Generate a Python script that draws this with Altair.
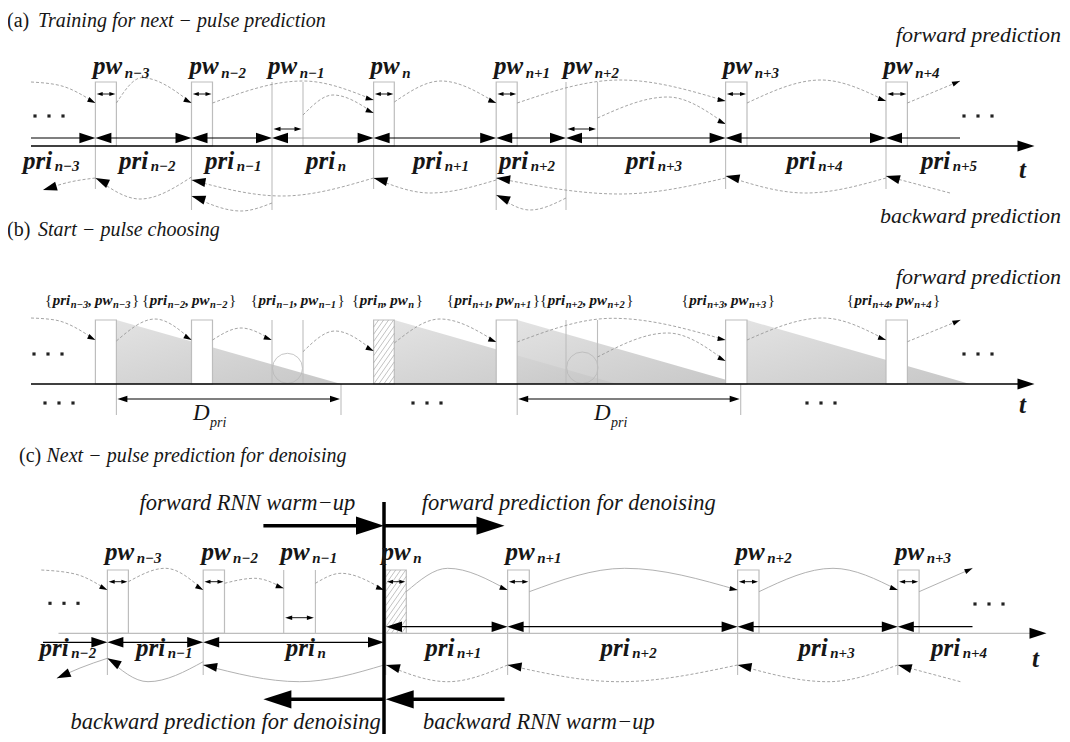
import math
import altair as alt
import pandas as pd

FONT = "Liberation Serif"
GREY = "#bdbdbd"
ARC_GREY = "#9a9a9a"
INK = "#161616"

# ---------------- pulse trains (page pixel coordinates) ----------------
ab_start = [95.4, 191.5, 272.0, 373.6, 496.2, 566.0, 725.6, 886.0]
ab_end = [116.4, 212.5, 303.0, 394.3, 517.2, 597.5, 747.0, 907.4]
a_kind = ["box", "box", "gap", "box", "box", "gap", "box", "box"]
b_kind = ["box", "box", "gap", "hatch", "box", "gap", "box", "box"]
c_start = [107.4, 203.2, 283.7, 385.7, 507.6, 737.6, 897.8]
c_end = [128.4, 224.5, 315.4, 406.3, 529.3, 759.0, 919.1]
c_kind = ["box", "box", "gap", "hatch", "box", "box", "box"]

# vertical levels
a_top, a_axis, a_pri_line, a_pw_arrow, a_gap_arrow = 82, 146, 138, 94, 129
a_tick_bottom = [189, 210, 210, 189, 210, 210, 189, 189]
b_top, b_axis, b_dpri_y, b_dpri_bottom = 320, 384, 399, 415
c_top, c_axis, c_pri_low, c_pri_high = 570, 633.3, 642.3, 626.7
c_pw_arrow, c_gap_arrow, c_tick_bottom = 581.7, 617.7, 675

# chains of double arrows (pri intervals)
a_chain = [31] + ab_start + [960]
a_chain_color = ["black", "black", "black", "#9a9a9a", "black", "black", "black", "black", "black"]
c_chain_low = [43, 107.4, 203.2, 384]
c_chain_high = [386, 507.6, 737.6, 897.8, 972.5]

# start-pulse windows in (b)
b_tri_start = [116.4, 394.3, 517.2, 747.0]
b_tri_end = [341.0, 617.0, 740.7, 970.0]
b_dpri_start = [116.4, 517.2]
b_dpri_end = [341.0, 740.7]
b_circle_x = [287.5, 582.3]
b_circle_y = [368.3, 367.7]
b_circle_r = [15.0, 15.7]

# dotted ellipses (left x of three dots, y)
dots_x = [35, 964, 34, 964, 45, 413, 807, 50, 975]
dots_y = [116, 116, 354, 354, 403, 403, 403, 603.3, 604]

# ---------------- prediction arcs (start ... tip) ----------------
arcs_a_fwd = [
    [(31, 82), (60, 85.5), (95.4, 103)],
    [(116.4, 103), (141.7, 77.7), (191.5, 103)],
    [(212.5, 103), (303, 81), (373.6, 100)],
    [(303, 115), (333, 95), (373.6, 113)],
    [(394.3, 102), (441, 81), (496.2, 103)],
    [(517.2, 103), (620, 80), (725.6, 101)],
    [(597.5, 118), (667.7, 97), (725.6, 124)],
    [(747, 103), (821, 80), (886, 101)],
    [(907.4, 103), (960, 81)],
]
arcs_a_bwd = [
    [(95.4, 178), (70, 182), (43, 190)],
    [(191.5, 177), (140, 199), (95.4, 178)],
    [(373.6, 178), (282, 196), (191.5, 180)],
    [(272, 203), (241, 211), (191.5, 196)],
    [(496.2, 180), (430, 193), (373.6, 178)],
    [(566, 198), (530, 210), (496.2, 195)],
    [(725.6, 178), (620, 194), (496.2, 178)],
    [(886, 178), (805.5, 193), (725.6, 176)],
    [(950, 193), (886, 176)],
]
arcs_b_fwd = [
    [(31, 318), (55, 320), (95.4, 340)],
    [(116.4, 341), (155, 319), (191.5, 340)],
    [(212.5, 340), (241, 328), (271.7, 340)],
    [(303, 351.7), (335, 331), (373.6, 351)],
    [(394.3, 343), (440, 319), (496.2, 342)],
    [(517.2, 342), (612.6, 318.3), (725.6, 340)],
    [(597.5, 357), (667.7, 333), (725.6, 361)],
    [(747, 340), (822.7, 318), (886, 340)],
    [(907.4, 341.7), (960.4, 320)],
]
arcs_c_fwd_dashed = [
    [(41.3, 570), (75, 574), (107.4, 590)],
    [(128.4, 581.7), (165.3, 568.3), (203.2, 590)],
    [(224.5, 583.3), (254.8, 578.3), (283.7, 588.3)],
    [(315.4, 583.3), (341, 573.3), (384, 590)],
]
arcs_c_fwd_solid = [
    [(406.3, 591.7), (447.7, 568.3), (507.6, 590)],
    [(529.3, 591.7), (624.7, 568.3), (737.6, 590)],
    [(759, 591.7), (833, 568.3), (897.8, 590)],
    [(919.1, 591.7), (972.5, 568.3)],
]
arcs_c_bwd_solid = [
    [(107.4, 658.3), (80, 668), (56.8, 678.3)],
    [(203.2, 661.7), (148, 681.7), (107.4, 658.3)],
    [(384, 665), (299.6, 681.7), (203.2, 665)],
]
arcs_c_bwd_dashed = [
    [(507.6, 665), (447.7, 681.7), (386, 665)],
    [(737.6, 665), (619.5, 681.7), (507.6, 665)],
    [(897.8, 665), (827.9, 681.7), (737.6, 665)],
    [(960.4, 681.7), (897.8, 665)],
]

# thick arrows of panel (c): (from x, to x, y)
thick_from = [263.4, 384, 384, 504.5]
thick_to = [384, 504.5, 263.4, 385.7]
thick_y = [525.7, 525.7, 699.3, 699.3]
divider_x, divider_top, divider_bottom = 384, 502, 735

# ---------------- texts ----------------
title_tag = ["(a)", "(b)", "(c)"]
title_tag_x = [7, 7, 19]
title_text = ["Training for next − pulse prediction", "Start − pulse choosing",
              "Next − pulse prediction for denoising"]
title_text_x = [38, 38, 46.5]
title_y = [26.5, 236, 462]

right_text = ["forward prediction", "backward prediction", "forward prediction"]
right_x = [1061, 1061, 1061]
right_y = [42, 223, 284]
left_text = ["forward RNN warm−up", "forward prediction for denoising",
             "backward prediction for denoising", "backward RNN warm−up"]
left_x = [139.5, 421.8, 70.6, 422.9]
left_y = [510, 510, 729, 729]

pw_sub_a = ["n−3", "n−2", "n−1", "n", "n+1", "n+2", "n+3", "n+4"]
pw_x_a = [93, 189.5, 268, 370.5, 494, 563, 723, 883.5]
pri_sub_a = ["n−3", "n−2", "n−1", "n", "n+1", "n+2", "n+3", "n+4", "n+5"]
pri_x_a = [23, 119, 205, 306, 413, 499, 626, 786.5, 921]
pair_sub_b = ["n−3", "n−2", "n−1", "n", "n+1", "n+2", "n+3", "n+4"]
pair_x_b = [45, 142, 250.7, 352, 446.7, 540, 681.5, 846.8]
pw_sub_c = ["n−3", "n−2", "n−1", "n", "n+1", "n+2", "n+3"]
pw_x_c = [105, 201.4, 280.6, 381.5, 505.5, 735.6, 895]
pri_sub_c = ["n−2", "n−1", "n", "n+1", "n+2", "n+3", "n+4"]
pri_x_c = [39.6, 136, 285.8, 425.3, 600.6, 798.6, 931]
label_base_a = {"pw": (73.5, 77.7), "pri": (168.5, 171)}
label_base_c = {"pw": (559.5, 563), "pri": (655.5, 657.5)}
pair_base_b = (305, 307.5)
d_x = [193, 594]
d_y, d_sub_y = 420, 427
t_x = [1019, 1019, 1032]
t_y = [178, 413, 667]

# ---------------- geometry helpers ----------------
HEAD = "M0,0L-2,-0.65L-2,0.65Z"
W_BI = {"p": .5, "r": .389, "i": .278, "w": .667, "n": .556, "−": .606, "+": .570,
        ",": .25, "{": .348, "}": .348, " ": .25}


def tw(s, size):
    return sum(W_BI.get(ch, .5) for ch in s) * size


rules, heads, black_rules = [], [], []


def add_rule(target, x1, y1, x2, y2, color, w):
    target.append(dict(x=x1, y=y1, x2=x2, y2=y2, color=color, w=w))


def add_head(tx, ty, dx, dy, L):
    heads.append(dict(x=tx, y=ty, angle=math.degrees(math.atan2(dy, dx)) % 360, size=L * L))


def arrow(x1, y1, x2, y2, L, color="black", w=1.2, h_start=False, h_end=True):
    dx, dy = x2 - x1, y2 - y1
    d = math.hypot(dx, dy)
    ux, uy = dx / d, dy / d
    sx, sy = (x1 + ux * L * 0.5, y1 + uy * L * 0.5) if h_start else (x1, y1)
    ex, ey = (x2 - ux * L * 0.5, y2 - uy * L * 0.5) if h_end else (x2, y2)
    add_rule(black_rules, sx, sy, ex, ey, color, w)
    if h_end:
        add_head(x2, y2, dx, dy, L)
    if h_start:
        add_head(x1, y1, -dx, -dy, L)


def chain(bounds, y, first_head, last_head, colors=None, L=16):
    n = len(bounds) - 1
    for i in range(n):
        hs = i > 0 or first_head
        he = i < n - 1 or last_head
        arrow(bounds[i], y, bounds[i + 1], y, L, colors[i] if colors else "black", 1.2, hs, he)


# axes
arrow(31, a_axis, 1034.5, a_axis, 17, "black", 1.3)
arrow(31, b_axis, 1034.5, b_axis, 17, "black", 1.3)
add_rule(rules, 58.5, c_axis, 1035, c_axis, GREY, 1.3)
add_head(1046.5, c_axis, 1, 0, 17)

# pri chains
chain(a_chain, a_pri_line, False, False, a_chain_color)
chain(c_chain_low, c_pri_low, False, True)
chain(c_chain_high, c_pri_high, True, False)

# pulses
boxes, hatch = [], []


def pulses(starts, ends, kinds, top, axis):
    for s, e, k in zip(starts, ends, kinds):
        if k == "gap":
            add_rule(rules, s, top, s, axis, GREY, 1.1)
            add_rule(rules, e, top, e, axis, GREY, 1.1)
        else:
            boxes.append(dict(x=s, x2=e, y=top, y2=axis))
            if k == "hatch":
                kk, sp = 0.7, 5.0
                w, h = e - s, axis - top
                c = -h * kk
                while c < w:
                    ya = max(top, axis - (w - c) / kk)
                    yb = min(axis, axis + c / kk)
                    if ya < yb:
                        hatch.append(dict(x=s + c + (axis - yb) * kk, y=yb,
                                          x2=s + c + (axis - ya) * kk, y2=ya))
                    c += sp


pulses(ab_start, ab_end, a_kind, a_top, a_axis)
pulses(ab_start, ab_end, b_kind, b_top, b_axis)
pulses(c_start, c_end, c_kind, c_top, c_axis)

# tick lines below the axis
for s, yb in zip(ab_start, a_tick_bottom):
    add_rule(rules, s, a_axis, s, yb, GREY, 1.1)
for s, k in zip(c_start, c_kind):
    if k != "gap":
        add_rule(rules, s, c_axis, s, c_tick_bottom, GREY, 1.1)
for s in b_dpri_start + b_dpri_end:
    add_rule(rules, s, b_axis, s, b_dpri_bottom, GREY, 1.1)

# small pulse-width arrows
for s, e, k in zip(ab_start, ab_end, a_kind):
    if k == "gap":
        arrow(s + 1.5, a_gap_arrow, e - 1.5, a_gap_arrow, 7, "black", 0.9, True, True)
    else:
        arrow(s + 1.3, a_pw_arrow, e - 1.0, a_pw_arrow, 6, "black", 0.9, True, True)
for s, e, k in zip(c_start, c_end, c_kind):
    if k == "gap":
        arrow(s + 1.5, c_gap_arrow, e - 1.5, c_gap_arrow, 7, "black", 0.9, True, True)
    else:
        arrow(s + 1.3, c_pw_arrow, e - 1.0, c_pw_arrow, 6, "black", 0.9, True, True)

# D_pri arrows
for s, e in zip(b_dpri_start, b_dpri_end):
    arrow(s + 1, b_dpri_y, e - 1, b_dpri_y, 10, "black", 1.1, True, True)

# thick arrows
thick_rules, thick_heads = [], []
for f, t, y in zip(thick_from, thick_to, thick_y):
    sgn = 1 if t > f else -1
    thick_rules.append(dict(x=f, y=y, x2=t - sgn * 14, y2=y))
    thick_heads.append(dict(x=t, y=y, angle=0 if sgn > 0 else 180, size=28 * 28))
thick_rules.append(dict(x=divider_x, y=divider_top, x2=divider_x, y2=divider_bottom))

# arcs


def arcs_df(arcs, L, tag):
    rows = []
    for i, pts in enumerate(arcs):
        for j, (x, y) in enumerate(pts):
            rows.append(dict(x=x, y=y, id=f"{tag}{i}", o=j))
        (x0, y0), (x1, y1) = pts[-2], pts[-1]
        add_head(x1, y1, x1 - x0, y1 - y0, L)
    return pd.DataFrame(rows)


dashed_arcs = pd.concat([
    arcs_df(arcs_a_fwd, 8, "af"), arcs_df(arcs_b_fwd, 8, "bf"),
    arcs_df(arcs_c_fwd_dashed, 8, "cfd"),
    arcs_df(arcs_a_bwd, 14, "ab"), arcs_df(arcs_c_bwd_dashed, 14, "cbd"),
])
solid_arcs = pd.concat([
    arcs_df(arcs_c_fwd_solid, 8, "cfs"), arcs_df(arcs_c_bwd_solid, 14, "cbs"),
])

# ---------------- text tables ----------------
main_lab, sub_lab = [], []


def labels(xs, subs, word, base):
    for x, s in zip(xs, subs):
        main_lab.append(dict(x=x, y=base[0], t=word))
        sub_lab.append(dict(x=x + tw(word, 25) + 2.5, y=base[1], t=s))


labels(pw_x_a, pw_sub_a, "pw", label_base_a["pw"])
labels(pri_x_a, pri_sub_a, "pri", label_base_a["pri"])
labels(pw_x_c, pw_sub_c, "pw", label_base_c["pw"])
labels(pri_x_c, pri_sub_c, "pri", label_base_c["pri"])

pair_main, pair_sub, pair_brace = [], [], []
for x, s in zip(pair_x_b, pair_sub_b):
    cx = x
    pair_brace.append(dict(x=cx, y=pair_base_b[0], t="{"))
    cx += tw("{", 15) + 2.5
    pair_main.append(dict(x=cx, y=pair_base_b[0], t="pri"))
    cx += tw("pri", 15) + 0.5
    pair_sub.append(dict(x=cx, y=pair_base_b[1], t=s))
    cx += tw(s, 10.5)
    pair_main.append(dict(x=cx, y=pair_base_b[0], t=","))
    cx += tw(",", 15) + 3
    pair_main.append(dict(x=cx, y=pair_base_b[0], t="pw"))
    cx += tw("pw", 15) + 0.5
    pair_sub.append(dict(x=cx, y=pair_base_b[1], t=s))
    cx += tw(s, 10.5) + 1.5
    pair_brace.append(dict(x=cx, y=pair_base_b[0], t="}"))

# ---------------- chart ----------------
XS = alt.Scale(domain=[8, 1062], nice=False, zero=False)
YS = alt.Scale(domain=[8, 734], nice=False, zero=False, reverse=True)
X = alt.X("x:Q", scale=XS, axis=None)
Y = alt.Y("y:Q", scale=YS, axis=None)


def seg_layer(df, **mk):
    return alt.Chart(df).mark_rule(**mk).encode(X, Y, x2=alt.X2("x2:Q"), y2=alt.Y2("y2:Q"))


def text_layer(rows, size, style="normal", weight="normal", align="left"):
    return alt.Chart(pd.DataFrame(rows)).mark_text(
        font=FONT, fontSize=size, fontStyle=style, fontWeight=weight, align=align,
        baseline="alphabetic", color=INK).encode(X, Y, text="t:N")


tri_rows = []
for i, (s, e) in enumerate(zip(b_tri_start, b_tri_end)):
    tri_rows.append(dict(x=s, y=b_top, y2=b_axis, id=i))
    tri_rows.append(dict(x=e, y=b_axis, y2=b_axis, id=i))
tri_layer = alt.Chart(pd.DataFrame(tri_rows)).mark_area(
    color=alt.Gradient(gradient="linear", x1=0, y1=0, x2=1, y2=1,
                       stops=[alt.GradientStop(color="#dedede", offset=0),
                              alt.GradientStop(color="#bdbdbd", offset=1)]),
    fillOpacity=0.85, line=False,
).encode(X, alt.Y("y:Q", scale=YS, axis=None, stack=None), y2=alt.Y2("y2:Q"), detail="id:N")

circle_layer = alt.Chart(pd.DataFrame(dict(
    x=b_circle_x, y=b_circle_y, size=[(2 * r) ** 2 for r in b_circle_r]))).mark_point(
    shape="circle", filled=False, color="#b8b8b8", strokeWidth=0.8, opacity=1
).encode(X, Y, size=alt.Size("size:Q", scale=None))

box_layer = alt.Chart(pd.DataFrame(boxes)).mark_rect(
    fill="white", stroke=GREY, strokeWidth=1.2).encode(X, Y, x2=alt.X2("x2:Q"), y2=alt.Y2("y2:Q"))
hatch_layer = seg_layer(pd.DataFrame(hatch), color="#a8a8a8", strokeWidth=0.7)
grey_layer = alt.Chart(pd.DataFrame(rules)).mark_rule().encode(
    X, Y, x2=alt.X2("x2:Q"), y2=alt.Y2("y2:Q"),
    color=alt.Color("color:N", scale=None), strokeWidth=alt.StrokeWidth("w:Q", scale=None))
dashed_layer = alt.Chart(dashed_arcs).mark_line(
    interpolate="monotone", strokeDash=[3, 2], color=ARC_GREY, strokeWidth=0.9
).encode(X, Y, detail="id:N", order="o:Q")
solid_layer = alt.Chart(solid_arcs).mark_line(
    interpolate="monotone", color="#a8a8a8", strokeWidth=0.9
).encode(X, Y, detail="id:N", order="o:Q")
black_layer = alt.Chart(pd.DataFrame(black_rules)).mark_rule().encode(
    X, Y, x2=alt.X2("x2:Q"), y2=alt.Y2("y2:Q"),
    color=alt.Color("color:N", scale=None), strokeWidth=alt.StrokeWidth("w:Q", scale=None))
head_layer = alt.Chart(pd.DataFrame(heads)).mark_point(
    shape=HEAD, filled=True, color="black", opacity=1, strokeWidth=0
).encode(X, Y, angle=alt.Angle("angle:Q", scale=None), size=alt.Size("size:Q", scale=None))
thick_layer = seg_layer(pd.DataFrame(thick_rules), color="black", strokeWidth=3.5)
thick_head_layer = alt.Chart(pd.DataFrame(thick_heads)).mark_point(
    shape=HEAD, filled=True, color="black", opacity=1, strokeWidth=0
).encode(X, Y, angle=alt.Angle("angle:Q", scale=None), size=alt.Size("size:Q", scale=None))

dot_rows = [dict(x=x + 14 * k, y=y) for x, y in zip(dots_x, dots_y) for k in range(3)]
dot_layer = alt.Chart(pd.DataFrame(dot_rows)).mark_square(size=10, color="#222", opacity=1).encode(X, Y)

layers = [
    tri_layer, circle_layer, box_layer, hatch_layer, grey_layer,
    dashed_layer, solid_layer, black_layer, head_layer, thick_layer, thick_head_layer, dot_layer,
    text_layer([dict(x=x, y=y, t=t) for x, y, t in zip(title_tag_x, title_y, title_tag)], 20),
    text_layer([dict(x=x, y=y, t=t) for x, y, t in zip(title_text_x, title_y, title_text)], 20, "italic"),
    text_layer([dict(x=x, y=y, t=t) for x, y, t in zip(right_x, right_y, right_text)], 22, "italic",
               align="right"),
    text_layer([dict(x=x, y=y, t=t) for x, y, t in zip(left_x, left_y, left_text)], 22.5, "italic"),
    text_layer(main_lab, 25, "italic", "bold"),
    text_layer(sub_lab, 15, "italic", "bold"),
    text_layer(pair_main, 15, "italic", "bold"),
    text_layer(pair_sub, 10.5, "italic", "bold"),
    text_layer(pair_brace, 15),
    text_layer([dict(x=x, y=d_y, t="D") for x in d_x], 23, "italic"),
    text_layer([dict(x=x + 17, y=d_sub_y, t="pri") for x in d_x], 14, "italic"),
    text_layer([dict(x=x, y=y, t="t") for x, y in zip(t_x, t_y)], 25, "italic", "bold"),
]

chart = alt.layer(*layers).properties(
    width=1054, height=726, padding=0,
    autosize=alt.AutoSizeParams(type="none"),
).configure_view(stroke="transparent")

chart.save("out.html", embed_options={"renderer": "svg", "actions": False})
